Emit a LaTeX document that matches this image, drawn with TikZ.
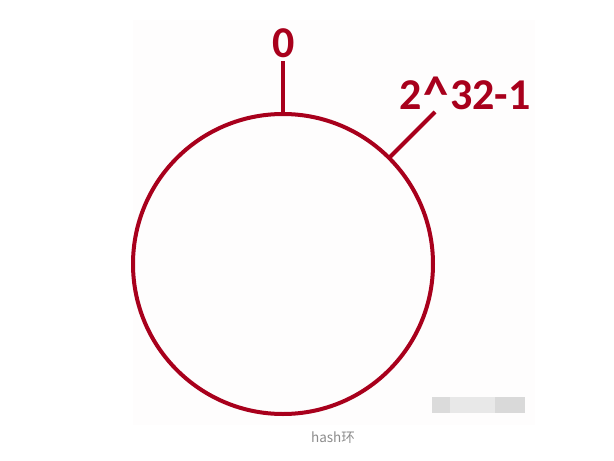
\documentclass[tikz,border=0pt]{standalone}
\usepackage{graphicx}
\usepackage{fontspec}
\setmainfont{Carlito}
\newfontfamily\cjkfont{Noto Sans CJK SC}
\definecolor{ringred}{RGB}{168,0,28}
\definecolor{capgray}{RGB}{140,140,140}
\definecolor{paper}{RGB}{254,253,253}
\begin{document}
\begin{tikzpicture}[x=1pt,y=-1pt,
  ring/.style={draw=ringred,line width=4pt},
  tickline/.style={draw=ringred,line width=4pt},
  lbl/.style={text=ringred,font=\bfseries\fontsize{44}{44}\selectfont,inner sep=0pt},
  captext/.style={text=capgray,font=\cjkfont\fontsize{13.5}{13.5}\selectfont,inner sep=0pt}]
\useasboundingbox (0,0) rectangle (614,461);
\fill[paper] (133,20) rectangle (535,425);
\coordinate (c) at (283,264);
\draw[ring] (c) circle[radius=150];
\coordinate (t0) at (283,114);
\coordinate (t0e) at (283,61);
\draw[tickline] (t0) -- (t0e);
\coordinate (t1) at (389.1,157.9);
\coordinate (t1e) at (435,112);
\draw[tickline] (t1) -- (t1e);
\node[lbl] (zero) at (284,43) {0};
\node[lbl] (max) at (465,94) {2\kern1.5pt\raisebox{-2pt}{\scalebox{1.15}{\textasciicircum}}\kern1.5pt32-1};
\node[captext] (caption) at (333,438) {hash环};
\fill[gray!28] (432,397) rectangle (450,413);
\fill[gray!18] (450,397) rectangle (495,413);
\fill[gray!30] (495,397) rectangle (525,413);
\end{tikzpicture}
\end{document}
